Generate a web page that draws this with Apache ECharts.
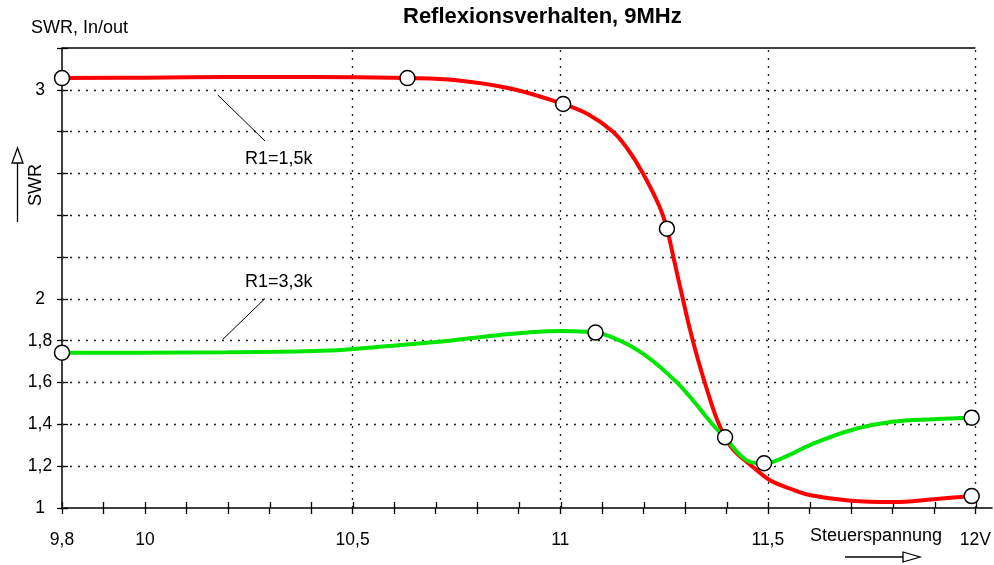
<!DOCTYPE html>
<html><head><meta charset="utf-8">
<script src="https://cdn.jsdelivr.net/npm/echarts@6/dist/echarts.min.js"></script>
<style>html,body{margin:0;padding:0;background:#fff}#c{width:994px;height:565px}</style>
</head><body><div id="c"></div>
<script>
// ---- texts ----
const titleText = 'Reflexionsverhalten, 9MHz';
const yAxisTitle = 'SWR, In/out';
const yArrowText = 'SWR';
const xAxisTitle = 'Steuerspannung';

// ---- axes ----
const xMin = 9.8, xMax = 12.04, xGridEnd = 12;
const yMin = 1, yMax = 3.2, yStep = 0.2;
const xTickValues = [9.8, 9.9, 10.0, 10.1, 10.2, 10.3, 10.4, 10.5, 10.6, 10.7, 10.8, 10.9, 11.0, 11.1, 11.2, 11.3, 11.4, 11.5, 11.6, 11.7, 11.8, 11.9, 12.0];
const xLabelValues = [9.8, 10, 10.5, 11, 11.5, 12];
const xLabelTexts = ['9,8', '10', '10,5', '11', '11,5', '12V'];
const xGridValues = [10.5, 11, 11.5, 12];
const yTickValues = [1.0, 1.2, 1.4, 1.6, 1.8, 2.0, 2.2, 2.4, 2.6, 2.8, 3.0, 3.2];
const yGridValues = [1.2, 1.4, 1.6, 1.8, 2.0, 2.2, 2.4, 2.6, 2.8, 3.0];
const yLabelValues = [1, 1.2, 1.4, 1.6, 1.8, 2, 3];
const yLabelTexts = ['1', '1,2', '1,4', '1,6', '1,8', '2', '3'];

// ---- series: R1 = 1,5k (red) ----
const redName = 'R1=1,5k';
const redCurve = [
  [9.8, 3.056], [10.0, 3.058], [10.2, 3.061], [10.4, 3.061], [10.632, 3.056],
  [10.75, 3.046], [10.88, 3.006], [11.007, 2.932], [11.07, 2.88], [11.127, 2.8], [11.162, 2.718],
  [11.199, 2.601], [11.239, 2.442], [11.257, 2.336], [11.274, 2.187], [11.292, 2.029], [11.311, 1.866],
  [11.332, 1.708], [11.356, 1.55], [11.378, 1.421], [11.397, 1.338], [11.417, 1.278],
  [11.463, 1.198], [11.504, 1.134], [11.552, 1.094], [11.6, 1.062], [11.7, 1.035],
  [11.8, 1.029], [11.9, 1.042], [11.991, 1.057]
];
const redPoints = [[9.8, 3.056], [10.632, 3.056], [11.007, 2.932], [11.257, 2.336], [11.991, 1.057]];

// ---- series: R1 = 3,3k (green) ----
const greenName = 'R1=3,3k';
const greenCurve = [
  [9.8, 1.743], [10.0, 1.743], [10.2, 1.745], [10.445, 1.753], [10.565, 1.771],
  [10.686, 1.791], [10.806, 1.817], [10.926, 1.84], [11.007, 1.847], [11.085, 1.839],
  [11.143, 1.801], [11.191, 1.749], [11.239, 1.677], [11.282, 1.598], [11.321, 1.512],
  [11.355, 1.428], [11.379, 1.373], [11.397, 1.338], [11.432, 1.256], [11.463, 1.217],
  [11.491, 1.214], [11.552, 1.254], [11.6, 1.3], [11.7, 1.372], [11.8, 1.412],
  [11.9, 1.425], [11.991, 1.432]
];
const greenPoints = [[9.8, 1.743], [11.085, 1.839], [11.397, 1.338], [11.491, 1.214], [11.991, 1.432]];

// ---- annotations (data coordinates) ----
const redLeader = [[10.175, 2.976], [10.289, 2.755]];
const redLabelAt = [10.322, 2.669];
const greenLeader = [[10.289, 2.002], [10.187, 1.806]];
const greenLabelAt = [10.322, 2.079];

const FONT = "'Liberation Sans', Arial, sans-serif";
const dotted = { type: [2, 6], color: '#222', width: 1.3 };
const solidBlack = { type: 'solid', color: '#000', width: 1.5 };
const thinBlack = { type: 'solid', color: '#000', width: 1 };
const tickStyle = { color: '#000', width: 1.3 };

function xFmt(v) {
  for (let i = 0; i < xLabelValues.length; i++) if (Math.abs(v - xLabelValues[i]) < 1e-6) return xLabelTexts[i];
  return '';
}
function yFmt(v) {
  for (let i = 0; i < yLabelValues.length; i++) if (Math.abs(v - yLabelValues[i]) < 1e-6) return yLabelTexts[i];
  return '';
}

const chart = echarts.init(document.getElementById('c'), null, { renderer: 'canvas' });
const markerStyle = { color: '#fff', borderColor: '#000', borderWidth: 1.5, opacity: 1 };

const hiddenAxis = { show: false };

const option = {
  animation: false,
  backgroundColor: '#fff',
  textStyle: { fontFamily: FONT },
  title: {
    text: titleText, left: 403, top: 6, padding: 0,
    textStyle: { fontFamily: FONT, fontSize: 22, fontWeight: 'bold', color: '#000' }
  },
  grid: [
    { left: 62, top: 48, right: 1, bottom: 57, containLabel: false },   // main plot
    { left: 68, top: 48, width: 20, bottom: 57, containLabel: false },  // inner half of y ticks
    { left: 62, top: 48, right: 1, bottom: 63, containLabel: false }    // inner half of x ticks
  ],
  xAxis: [{
    gridIndex: 0, type: 'value', min: xMin, max: xMax,
    axisLine: { show: true, onZero: false, lineStyle: { color: '#000', width: 1.5 } },
    axisTick: { show: true, inside: false, length: 6, customValues: xTickValues, lineStyle: tickStyle },
    axisLabel: { show: true, customValues: xLabelValues, formatter: xFmt, margin: 23, color: '#000', fontSize: 17.5, fontFamily: FONT },
    splitLine: { show: false }
  }, Object.assign({ gridIndex: 1, type: 'value', min: 0, max: 1 }, hiddenAxis), {
    gridIndex: 2, type: 'value', min: xMin, max: xMax, position: 'bottom',
    axisLine: { show: false, onZero: false },
    axisTick: { show: true, inside: false, length: 6, customValues: xTickValues, lineStyle: tickStyle },
    axisLabel: { show: false }, splitLine: { show: false }
  }],
  yAxis: [{
    gridIndex: 0, type: 'value', min: yMin, max: yMax, interval: yStep,
    axisLine: { show: true, onZero: false, lineStyle: { color: '#000', width: 1.5 } },
    axisTick: { show: true, inside: false, length: 5, customValues: yTickValues, lineStyle: tickStyle },
    axisLabel: { show: true, customValues: yLabelValues, formatter: yFmt, align: 'center', margin: 22, color: '#000', fontSize: 17.5, fontFamily: FONT },
    splitLine: { show: false }
  }, {
    gridIndex: 1, type: 'value', min: yMin, max: yMax, interval: yStep, position: 'left',
    axisLine: { show: false, onZero: false },
    axisTick: { show: true, inside: false, length: 6, customValues: yTickValues, lineStyle: tickStyle },
    axisLabel: { show: false }, splitLine: { show: false }
  }, Object.assign({ gridIndex: 2, type: 'value', min: 0, max: 1 }, hiddenAxis)],
  series: [
    {
      name: redName, type: 'line', data: redCurve, smooth: 0.4, showSymbol: false, symbol: 'none',
      lineStyle: { color: '#ff0000', width: 4 }, z: 3,
      markLine: {
        silent: true, symbol: 'none', animation: false, label: { show: false }, z: 1,
        data: [
          ...xGridValues.map(v => ({ xAxis: v, lineStyle: dotted })),
          ...yGridValues.map(v => [{ coord: [xMin, v], lineStyle: dotted }, { coord: [xGridEnd, v] }]),
          [{ coord: [xMin, yMax], lineStyle: solidBlack }, { coord: [xGridEnd, yMax] }],
          [{ coord: redLeader[0], lineStyle: thinBlack }, { coord: redLeader[1] }],
          [{ coord: greenLeader[0], lineStyle: thinBlack }, { coord: greenLeader[1] }]
        ]
      },
      markPoint: {
        silent: true, symbol: 'circle', symbolSize: 1, itemStyle: { color: 'rgba(0,0,0,0)' },
        data: [
          { coord: redLabelAt, label: { show: true, position: 'inside', formatter: redName, color: '#000', fontSize: 18, fontFamily: FONT } },
          { coord: greenLabelAt, label: { show: true, position: 'inside', formatter: greenName, color: '#000', fontSize: 18, fontFamily: FONT } }
        ]
      }
    },
    {
      name: greenName, type: 'line', data: greenCurve, smooth: 0.4, showSymbol: false, symbol: 'none',
      lineStyle: { color: '#00e600', width: 4 }, z: 4
    },
    {
      name: redName + ' Messpunkte', type: 'scatter', data: redPoints, symbol: 'circle', symbolSize: 15,
      itemStyle: markerStyle, z: 6
    },
    {
      name: greenName + ' Messpunkte', type: 'scatter', data: greenPoints, symbol: 'circle', symbolSize: 15,
      itemStyle: markerStyle, z: 6
    }
  ],
  graphic: [
    { type: 'text', left: 31, top: 19, style: { text: yAxisTitle, fontSize: 18, fontFamily: FONT, fill: '#000' } },
    { type: 'text', x: 36.5, y: 185, rotation: Math.PI / 2,
      style: { text: yArrowText, fontSize: 18, fontFamily: FONT, fill: '#000', align: 'center', verticalAlign: 'middle' } },
    { type: 'line', shape: { x1: 17.5, y1: 222, x2: 17.5, y2: 163 }, style: { stroke: '#000', lineWidth: 1.3 } },
    { type: 'polygon', shape: { points: [[17.5, 148], [12, 163], [23, 163]] }, style: { fill: '#fff', stroke: '#000', lineWidth: 1.3 } },
    { type: 'text', left: 810, top: 527, style: { text: xAxisTitle, fontSize: 18, fontFamily: FONT, fill: '#000' } },
    { type: 'line', shape: { x1: 845, y1: 557, x2: 905, y2: 557 }, style: { stroke: '#000', lineWidth: 1.3 } },
    { type: 'polygon', shape: { points: [[903, 552], [903, 562], [920, 557]] }, style: { fill: '#fff', stroke: '#000', lineWidth: 1.3 } }
  ]
};
chart.setOption(option);
</script>
</body></html>
